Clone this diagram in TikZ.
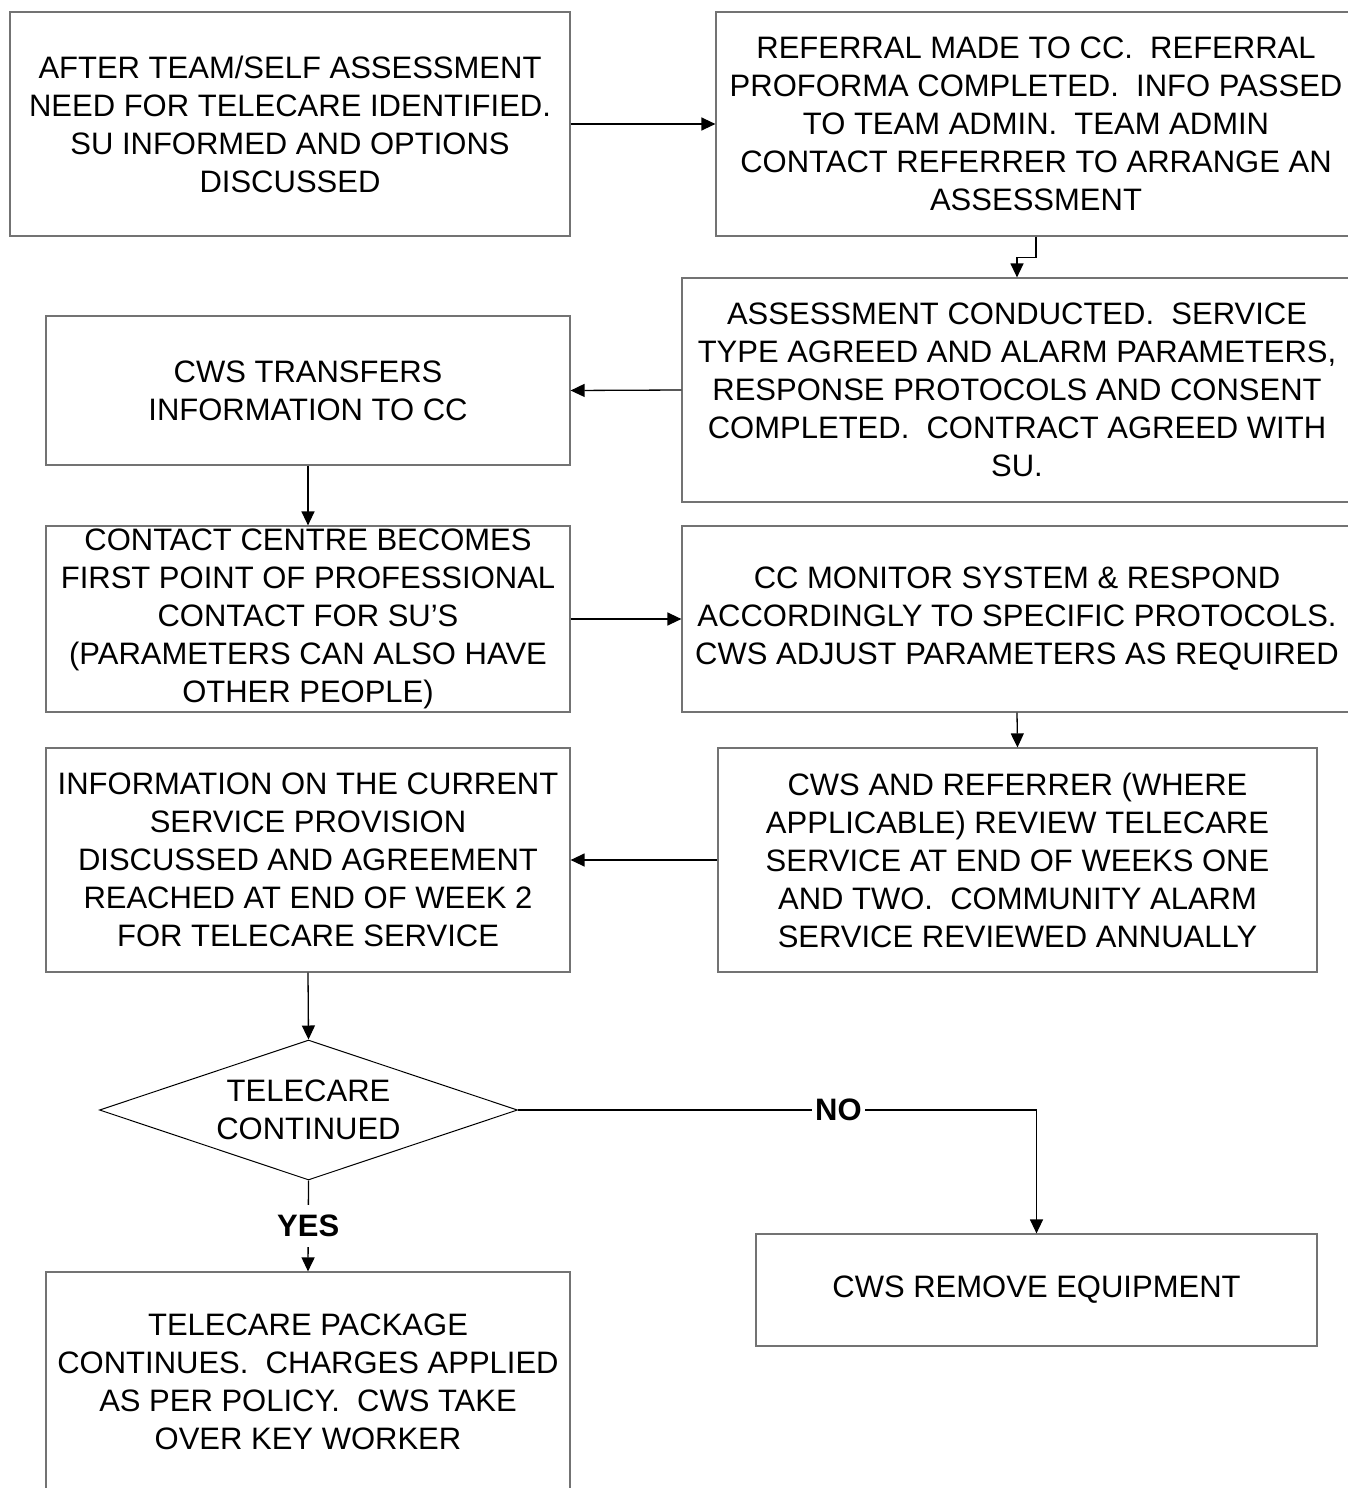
\documentclass[tikz,border=0pt]{standalone}
\usepackage{fontspec}
\setmainfont{Liberation Sans}
\usetikzlibrary{arrows.meta,shapes.geometric}
\begin{document}
\begin{tikzpicture}[x=1pt,y=-1pt,
  box/.style={draw=black!55,line width=1.2pt,rectangle,inner sep=0pt,align=center,font=\fontsize{31}{38}\selectfont},
  dec/.style={draw=black,line width=1pt,diamond,aspect=3,inner sep=0pt,align=center,font=\fontsize{31}{38}\selectfont,minimum width=418pt,minimum height=140pt},
  conn/.style={draw=black,line width=1.3pt,-{Triangle[length=14pt,width=13pt]}},
  lbl/.style={fill=white,inner xsep=3pt,inner ysep=10pt,font=\fontsize{31}{38}\selectfont\bfseries}]
\useasboundingbox (0,0) rectangle (1348,1488);
\node[box,minimum width=560pt,minimum height=224pt] (a) at (290,124) {AFTER TEAM/SELF ASSESSMENT\\NEED FOR TELECARE IDENTIFIED.\\SU INFORMED AND OPTIONS\\DISCUSSED};
\node[box,minimum width=640pt,minimum height=224pt] (b) at (1036,124) {REFERRAL MADE TO CC.\ \ REFERRAL\\PROFORMA COMPLETED.\ \ INFO PASSED\\TO TEAM ADMIN.\ \ TEAM ADMIN\\CONTACT REFERRER TO ARRANGE AN\\ASSESSMENT};
\node[box,minimum width=670pt,minimum height=224pt] (c) at (1017,390) {ASSESSMENT CONDUCTED.\ \ SERVICE\\TYPE AGREED AND ALARM PARAMETERS,\\RESPONSE PROTOCOLS AND CONSENT\\COMPLETED.\ \ CONTRACT AGREED WITH\\SU.};
\node[box,minimum width=524pt,minimum height=149pt] (d) at (308,390.5) {CWS TRANSFERS\\INFORMATION TO CC};
\node[box,minimum width=524pt,minimum height=186pt] (e) at (308,619) {CONTACT CENTRE BECOMES\\FIRST POINT OF PROFESSIONAL\\CONTACT FOR SU’S\\(PARAMETERS CAN ALSO HAVE\\OTHER PEOPLE)};
\node[box,minimum width=670pt,minimum height=186pt] (f) at (1017,619) {CC MONITOR SYSTEM \& RESPOND\\ACCORDINGLY TO SPECIFIC PROTOCOLS.\\CWS ADJUST PARAMETERS AS REQUIRED};
\node[box,minimum width=599pt,minimum height=224pt] (g) at (1017.5,860) {CWS AND REFERRER (WHERE\\APPLICABLE) REVIEW TELECARE\\SERVICE AT END OF WEEKS ONE\\AND TWO.\ \ COMMUNITY ALARM\\SERVICE REVIEWED ANNUALLY};
\node[box,minimum width=524pt,minimum height=224pt] (h) at (308,860) {INFORMATION ON THE CURRENT\\SERVICE PROVISION\\DISCUSSED AND AGREEMENT\\REACHED AT END OF WEEK 2\\FOR TELECARE SERVICE};
\node[dec] (q) at (308.5,1110) {TELECARE\\CONTINUED};
\node[box,minimum width=524pt,minimum height=220pt] (i) at (308,1382) {TELECARE PACKAGE\\CONTINUES.\ \ CHARGES APPLIED\\AS PER POLICY.\ \ CWS TAKE\\OVER KEY WORKER};
\node[box,minimum width=561pt,minimum height=112pt] (j) at (1036.5,1290) {CWS REMOVE EQUIPMENT};
\draw[conn] (a.east) -- (b.west);
\draw[conn] (b.south) -- ++(0,21) -| (c.north);
\draw[conn] (c.west) -- (d.east);
\draw[conn] (d.south) -- (e.north);
\draw[conn] (e.east) -- (f.west);
\draw[conn] (f.south) -- (g.north);
\draw[conn] (g.west) -- (h.east);
\draw[conn] (h.south) -- (q.north);
\draw[conn] (q.east) -- node[lbl,pos=0.618] {NO} (q.east -| j.north) -- (j.north);
\draw[conn] (q.south) -- node[lbl] {YES} (i.north);
\end{tikzpicture}
\end{document}
